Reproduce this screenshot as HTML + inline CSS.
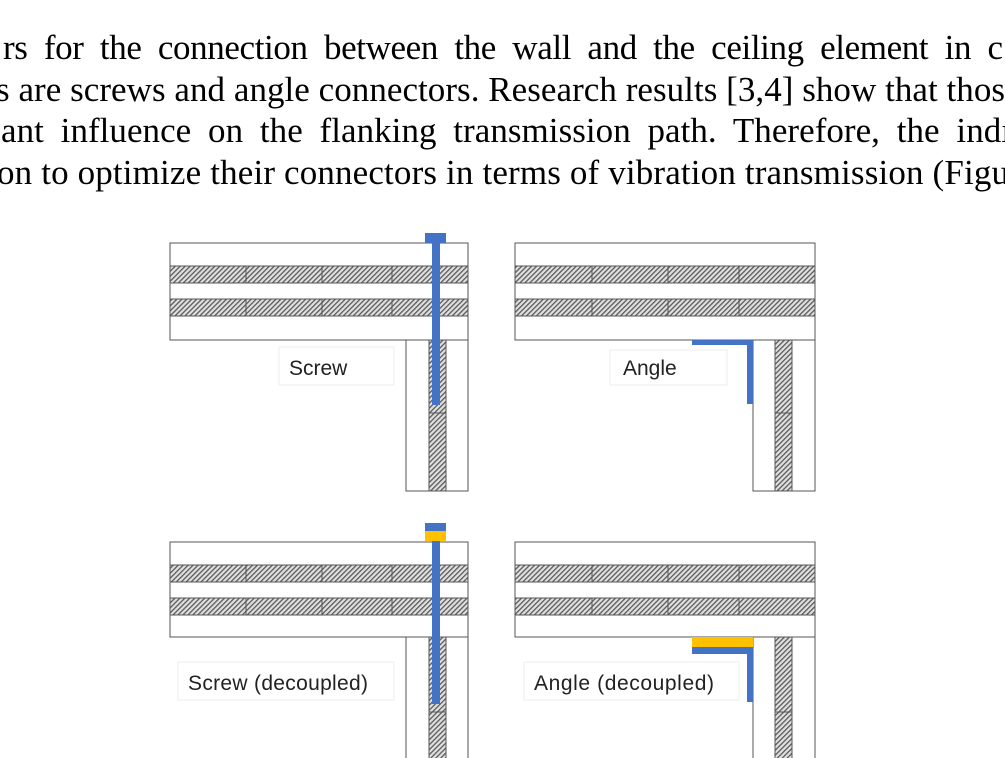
<!DOCTYPE html>
<html><head><style>
html,body{margin:0;padding:0;background:#fff;}
svg{display:block;}
</style></head><body>
<svg width="1005" height="758" viewBox="0 0 1005 758" xmlns="http://www.w3.org/2000/svg">
<defs>
<pattern id="h" width="3.5" height="3.5" patternUnits="userSpaceOnUse" patternTransform="rotate(45)">
<rect width="3.5" height="3.5" fill="#e0e0e0"/>
<rect width="1.3" height="3.5" fill="#5a5a5a"/>
</pattern>
</defs>
<g font-family="'Liberation Serif', serif" font-size="35" fill="#000">
<text x="3" y="59" textLength="1000" lengthAdjust="spacing" word-spacing="8">rs for the connection between the wall and the ceiling element in c</text>
<text x="-4" y="101" textLength="1009" lengthAdjust="spacing">s are screws and angle connectors. Research results [3,4] show that thos</text>
<text x="1" y="142" textLength="1010" lengthAdjust="spacing" word-spacing="8">ant influence on the flanking transmission path. Therefore, the indı</text>
<text x="-3" y="184" textLength="1012" lengthAdjust="spacing">on to optimize their connectors in terms of vibration transmission (Figu</text>
</g>

<g stroke="#555" stroke-width="1">
<rect x="170" y="243" width="298" height="97" fill="#fff"/>
<rect x="170" y="266" width="298" height="17" fill="url(#h)"/>
<rect x="170" y="299" width="298" height="17" fill="url(#h)"/>
<path d="M246 266V283M322 266V283M392 266V283M246 299V316M322 299V316M392 299V316"/>
<rect x="406" y="340" width="62" height="151" fill="#fff"/>
<rect x="429" y="340" width="17" height="151" fill="url(#h)"/>
<path d="M429 413H446"/>
<rect x="515" y="243" width="300" height="97" fill="#fff"/>
<rect x="515" y="266" width="300" height="17" fill="url(#h)"/>
<rect x="515" y="299" width="300" height="17" fill="url(#h)"/>
<path d="M592 266V283M668 266V283M739 266V283M592 299V316M668 299V316M739 299V316"/>
<rect x="753" y="340" width="62" height="151" fill="#fff"/>
<rect x="775" y="340" width="17" height="151" fill="url(#h)"/>
<path d="M775 413H792"/>
<rect x="170" y="542" width="298" height="95" fill="#fff"/>
<rect x="170" y="565" width="298" height="17" fill="url(#h)"/>
<rect x="170" y="598" width="298" height="17" fill="url(#h)"/>
<path d="M246 565V582M322 565V582M392 565V582M246 598V615M322 598V615M392 598V615"/>
<rect x="406" y="637" width="62" height="130" fill="#fff"/>
<rect x="429" y="637" width="17" height="130" fill="url(#h)"/>
<path d="M429 712H446"/>
<rect x="515" y="542" width="300" height="95" fill="#fff"/>
<rect x="515" y="565" width="300" height="17" fill="url(#h)"/>
<rect x="515" y="598" width="300" height="17" fill="url(#h)"/>
<path d="M592 565V582M668 565V582M739 565V582M592 598V615M668 598V615M739 598V615"/>
<rect x="753" y="637" width="62" height="130" fill="#fff"/>
<rect x="775" y="637" width="17" height="130" fill="url(#h)"/>
<path d="M775 712H792"/>
</g>

<g fill="#4472c4">
<rect x="425" y="233" width="21" height="10"/>
<rect x="432" y="243" width="8" height="162"/>
<path d="M692 340H753V404H747V345H692Z"/>
<rect x="425" y="523" width="21" height="8"/>
<rect x="432" y="541" width="8" height="163"/>
<path d="M692 647H753V702H747V654H692Z"/>
</g>
<g fill="#ffc000">
<rect x="425" y="531" width="21" height="10"/>
<rect x="692" y="637" width="61" height="10"/>
</g>

<g fill="#fff" stroke="#eee">
<rect x="279" y="347" width="115" height="38"/>
<rect x="610" y="350" width="117" height="35"/>
<rect x="178" y="662" width="216" height="38"/>
<rect x="524" y="662" width="215" height="38"/>
</g>
<g font-family="'Liberation Sans', sans-serif" font-size="21" fill="#222">
<text x="289" y="375">Screw</text>
<text x="623" y="375">Angle</text>
<text x="188" y="690" textLength="180" lengthAdjust="spacing">Screw (decoupled)</text>
<text x="534" y="690" textLength="180" lengthAdjust="spacing">Angle (decoupled)</text>
</g>
</svg>
</body></html>
